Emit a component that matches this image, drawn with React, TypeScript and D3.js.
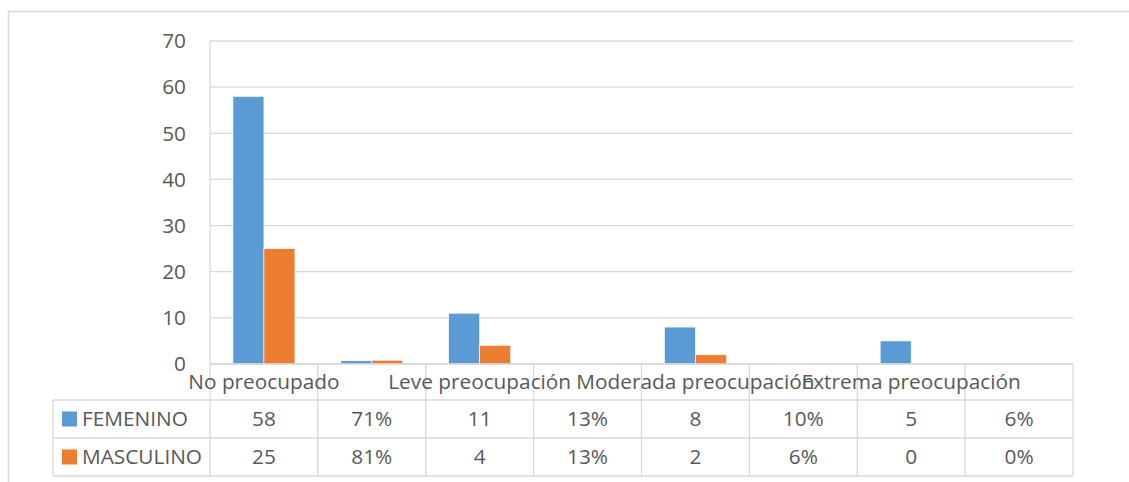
import React from 'react';
import * as d3 from 'd3';

const categories = ['No preocupado', '', 'Leve preocupación', '', 'Moderada preocupación', '', 'Extrema preocupación', ''];
const seriesNames = ['FEMENINO', 'MASCULINO'];
const femenino = [58, 0.71, 11, 0.13, 8, 0.1, 5, 0.06];
const masculino = [25, 0.81, 4, 0.13, 2, 0.06, 0, 0];
const femeninoLabels = ['58', '71%', '11', '13%', '8', '10%', '5', '6%'];
const masculinoLabels = ['25', '81%', '4', '13%', '2', '6%', '0', '0%'];
const yTicks = [0, 10, 20, 30, 40, 50, 60, 70];
const colors = ['#5B9BD5', '#ED7D31'];

const W = 1129;
const H = 482;
const plot = { left: 210, right: 1073, top: 41, bottom: 364 };
const rowLines = [364, 400, 438, 476];
const legendLeft = 53;
const grid = '#d9d9d9';
const textColor = '#595959';
const font = '"Open Sans", sans-serif';
const fs = 20.8;

export default function App() {
  const x = d3.scaleBand<number>().domain(d3.range(categories.length)).range([plot.left, plot.right]).padding(0);
  const x1 = d3.scaleBand<number>().domain([0, 1]).range([0, x.bandwidth()]).paddingInner(0).paddingOuter(0.74);
  const y = d3.scaleLinear().domain([0, 70]).range([plot.bottom, plot.top]);

  const series = [femenino, masculino];
  const labels = [femeninoLabels, masculinoLabels];
  const colEdges = d3.range(categories.length + 1).map((i) => plot.left + i * x.step());

  return (
    <svg width={W} height={H} style={{ position: 'absolute', left: 0, top: 0, background: '#fff' }}>
      {/* outer chart frame */}
      <rect x={8.5} y={11.5} width={W + 10} height={H + 10} fill="none" stroke={grid} strokeWidth={1.5} />

      {/* gridlines */}
      {yTicks.map((t) => (
        <line key={t} x1={plot.left} x2={plot.right} y1={y(t)} y2={y(t)} stroke={grid} strokeWidth={1.3} />
      ))}
      <line x1={plot.left} x2={plot.left} y1={plot.top} y2={plot.bottom} stroke={grid} strokeWidth={1.3} />

      {/* y tick labels */}
      {yTicks.map((t) => (
        <text key={t} x={186} y={y(t)} dy="0.35em" textAnchor="end" fontFamily={font} fontSize={fs} fill={textColor}>
          {t}
        </text>
      ))}

      {/* bars */}
      {series.map((vals, s) =>
        vals.map((v, i) => (
          <rect
            key={`${s}-${i}`}
            x={(x(i) ?? 0) + (x1(s) ?? 0)}
            y={y(v)}
            width={x1.bandwidth()}
            height={y(0) - y(v)}
            fill={colors[s]}
            stroke="#fff"
            strokeWidth={0.6}
          />
        ))
      )}

      {/* data table lines */}
      {rowLines.map((ry, i) => (
        <line key={ry} x1={i === 0 ? plot.left : legendLeft} x2={plot.right} y1={ry} y2={ry} stroke={grid} strokeWidth={1.3} />
      ))}
      {colEdges.map((cx) => (
        <line key={cx} x1={cx} x2={cx} y1={rowLines[0]} y2={rowLines[3]} stroke={grid} strokeWidth={1.3} />
      ))}
      <line x1={legendLeft} x2={legendLeft} y1={rowLines[1]} y2={rowLines[3]} stroke={grid} strokeWidth={1.3} />

      {/* category labels */}
      {categories.map((c, i) =>
        c ? (
          <text key={i} x={(x(i) ?? 0) + x.bandwidth() / 2} y={(rowLines[0] + rowLines[1]) / 2} dy="0.35em" textAnchor="middle" fontFamily={font} fontSize={fs} fill={textColor}>
            {c}
          </text>
        ) : null
      )}

      {/* table rows */}
      {seriesNames.map((name, s) => {
        const cy = (rowLines[s + 1] + rowLines[s + 2]) / 2;
        return (
          <g key={name}>
            <rect x={62} y={cy - 7.5} width={15} height={15} fill={colors[s]} />
            <text x={82} y={cy} dy="0.35em" fontFamily={font} fontSize={fs} fill={textColor}>
              {name}
            </text>
            {labels[s].map((l, i) => (
              <text key={i} x={(x(i) ?? 0) + x.bandwidth() / 2} y={cy} dy="0.35em" textAnchor="middle" fontFamily={font} fontSize={fs} fill={textColor}>
                {l}
              </text>
            ))}
          </g>
        );
      })}
    </svg>
  );
}
